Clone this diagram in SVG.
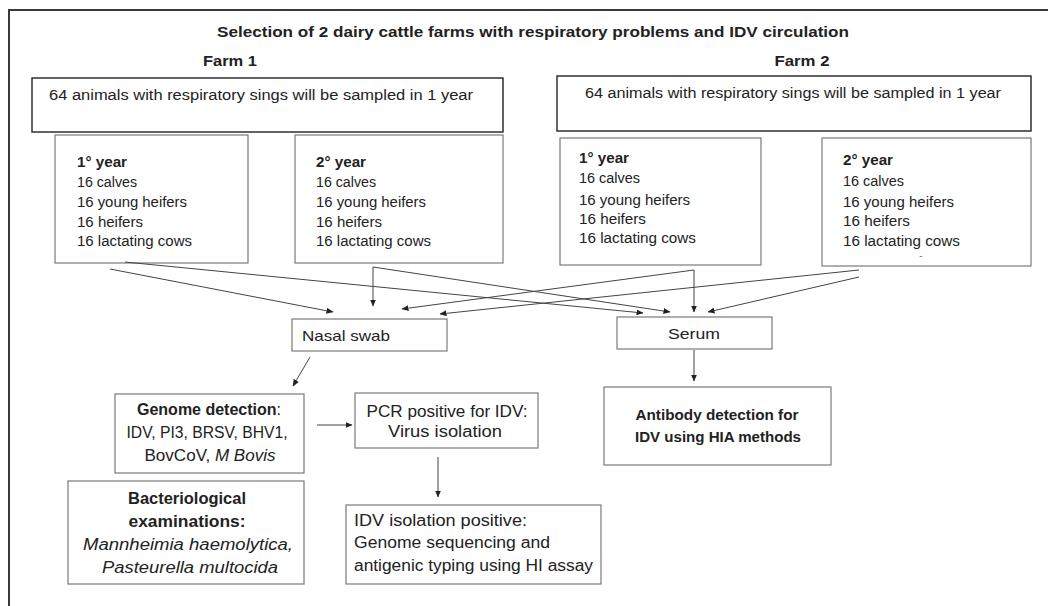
<svg xmlns="http://www.w3.org/2000/svg" width="1048" height="606" viewBox="0 0 1048 606">
<defs>
<marker id="ah" markerWidth="7" markerHeight="6" refX="6.5" refY="3" orient="auto" markerUnits="userSpaceOnUse">
<path d="M0,0 L7,3 L0,6 Z" fill="#222"/>
</marker>
<style>
text{font-family:"Liberation Sans",Arial,sans-serif;fill:#222}
.t{font-size:15px;font-weight:bold}
.big{font-size:15.5px}
.yr{font-size:14px}
.b{font-weight:bold}
.mid{font-size:14.5px}
.lg{font-size:16px}
.it{font-style:italic}
.dark{fill:#fff;stroke:#222;stroke-width:1.4}
.box{fill:#fff;stroke:#7a7a7a;stroke-width:1.2}
.con line{stroke:#444;stroke-width:1;marker-end:url(#ah)}
</style>
</defs>
<rect width="1048" height="606" fill="#fff"/>
<path d="M9,606 V10 H1048" fill="none" stroke="#3a3a3a" stroke-width="2"/>

<g id="title">
<text class="t" x="533" y="37" text-anchor="middle" textLength="632" lengthAdjust="spacingAndGlyphs">Selection of 2 dairy cattle farms with respiratory problems and IDV circulation</text>
<text class="t" x="230" y="66" text-anchor="middle" textLength="54" lengthAdjust="spacingAndGlyphs">Farm 1</text>
<text class="t" x="802" y="66" text-anchor="middle" textLength="55" lengthAdjust="spacingAndGlyphs">Farm 2</text>
</g>

<g id="farm1-total">
<rect class="dark" x="32" y="78" width="471" height="54"/>
<text class="big" x="49" y="100" textLength="424" lengthAdjust="spacingAndGlyphs">64 animals with respiratory sings will be sampled in 1 year</text>
</g>
<g id="farm2-total">
<rect class="dark" x="557" y="76" width="474" height="55"/>
<text class="big" x="585" y="98" textLength="416" lengthAdjust="spacingAndGlyphs">64 animals with respiratory sings will be sampled in 1 year</text>
</g>

<g id="farm1-year1">
<rect class="box" x="55" y="135" width="193" height="128"/>
<text class="yr b" x="77" y="167" textLength="50" lengthAdjust="spacingAndGlyphs">1° year</text>
<text class="yr" x="77" y="187" textLength="60" lengthAdjust="spacingAndGlyphs">16 calves</text>
<text class="yr" x="77" y="207" textLength="110" lengthAdjust="spacingAndGlyphs">16 young heifers</text>
<text class="yr" x="77" y="227" textLength="66" lengthAdjust="spacingAndGlyphs">16 heifers</text>
<text class="yr" x="77" y="246" textLength="115" lengthAdjust="spacingAndGlyphs">16 lactating cows</text>
</g>
<g id="farm1-year2">
<rect class="box" x="295" y="135" width="208" height="128"/>
<text class="yr b" x="316" y="167" textLength="50" lengthAdjust="spacingAndGlyphs">2° year</text>
<text class="yr" x="316" y="187" textLength="60" lengthAdjust="spacingAndGlyphs">16 calves</text>
<text class="yr" x="316" y="207" textLength="110" lengthAdjust="spacingAndGlyphs">16 young heifers</text>
<text class="yr" x="316" y="227" textLength="66" lengthAdjust="spacingAndGlyphs">16 heifers</text>
<text class="yr" x="316" y="246" textLength="115" lengthAdjust="spacingAndGlyphs">16 lactating cows</text>
</g>
<g id="farm2-year1">
<rect class="box" x="560" y="138" width="201" height="127"/>
<text class="yr b" x="579" y="163" textLength="50" lengthAdjust="spacingAndGlyphs">1° year</text>
<text class="yr" x="579" y="183" textLength="61" lengthAdjust="spacingAndGlyphs">16 calves</text>
<text class="yr" x="579" y="205" textLength="111" lengthAdjust="spacingAndGlyphs">16 young heifers</text>
<text class="yr" x="579" y="224" textLength="67" lengthAdjust="spacingAndGlyphs">16 heifers</text>
<text class="yr" x="579" y="243" textLength="117" lengthAdjust="spacingAndGlyphs">16 lactating cows</text>
</g>
<g id="farm2-year2">
<rect class="box" x="822" y="138" width="209" height="128"/>
<text class="yr b" x="843" y="165" textLength="50" lengthAdjust="spacingAndGlyphs">2° year</text>
<text class="yr" x="843" y="186" textLength="61" lengthAdjust="spacingAndGlyphs">16 calves</text>
<text class="yr" x="843" y="207" textLength="111" lengthAdjust="spacingAndGlyphs">16 young heifers</text>
<text class="yr" x="843" y="226" textLength="67" lengthAdjust="spacingAndGlyphs">16 heifers</text>
<text class="yr" x="843" y="246" textLength="117" lengthAdjust="spacingAndGlyphs">16 lactating cows</text>
<text x="921" y="259" font-size="10" style="fill:#777" text-anchor="middle">-</text>
</g>

<g id="nasal-swab">
<rect class="box" x="292" y="319" width="155" height="32"/>
<text class="mid" x="302" y="341" textLength="88" lengthAdjust="spacingAndGlyphs">Nasal swab</text>
</g>
<g id="serum">
<rect class="box" x="617" y="317" width="155" height="32"/>
<text class="mid" x="694" y="339" text-anchor="middle" textLength="52" lengthAdjust="spacingAndGlyphs">Serum</text>
</g>

<g id="genome-detection">
<rect class="box" x="115" y="394" width="189" height="79"/>
<text class="lg" x="209" y="415" text-anchor="middle" textLength="144" lengthAdjust="spacingAndGlyphs"><tspan class="b">Genome detection</tspan>:</text>
<text class="lg" x="207" y="438" text-anchor="middle" textLength="161" lengthAdjust="spacingAndGlyphs">IDV, PI3, BRSV, BHV1,</text>
<text class="lg" x="210" y="461" text-anchor="middle" textLength="131" lengthAdjust="spacingAndGlyphs">BovCoV, <tspan class="it">M Bovis</tspan></text>
</g>
<g id="bacteriological">
<rect class="box" x="68" y="481" width="236" height="103"/>
<text class="lg b" x="187" y="504" text-anchor="middle" textLength="118" lengthAdjust="spacingAndGlyphs">Bacteriological</text>
<text class="lg b" x="187" y="527" text-anchor="middle" textLength="117" lengthAdjust="spacingAndGlyphs">examinations:</text>
<text class="lg it" x="188" y="550" text-anchor="middle" textLength="210" lengthAdjust="spacingAndGlyphs">Mannheimia haemolytica,</text>
<text class="lg it" x="190" y="573" text-anchor="middle" textLength="176" lengthAdjust="spacingAndGlyphs">Pasteurella multocida</text>
</g>
<g id="pcr">
<rect class="box" x="355" y="393" width="183" height="55"/>
<text class="lg" x="447" y="417" text-anchor="middle" textLength="161" lengthAdjust="spacingAndGlyphs">PCR positive for IDV:</text>
<text class="lg" x="445" y="437" text-anchor="middle" textLength="114" lengthAdjust="spacingAndGlyphs">Virus isolation</text>
</g>
<g id="idv-isolation">
<rect class="box" x="346" y="505" width="255" height="79"/>
<text class="lg" x="354" y="526" textLength="173" lengthAdjust="spacingAndGlyphs">IDV isolation positive:</text>
<text class="lg" x="354" y="548" textLength="196" lengthAdjust="spacingAndGlyphs">Genome sequencing and</text>
<text class="lg" x="354" y="571" textLength="239" lengthAdjust="spacingAndGlyphs">antigenic typing using HI assay</text>
</g>
<g id="antibody">
<rect class="box" x="604" y="387" width="227" height="78"/>
<text class="mid b" x="717" y="420" text-anchor="middle" textLength="163" lengthAdjust="spacingAndGlyphs">Antibody detection for</text>
<text class="mid b" x="718" y="442" text-anchor="middle" textLength="166" lengthAdjust="spacingAndGlyphs">IDV using HIA methods</text>
</g>

<g id="connectors" class="con">
<line x1="125" y1="262" x2="643" y2="313"/>
<line x1="110" y1="269" x2="333" y2="312"/>
<line x1="373" y1="267" x2="373" y2="306"/>
<line x1="373" y1="267" x2="670" y2="312"/>
<line x1="694" y1="270" x2="694" y2="312"/>
<line x1="694" y1="270" x2="402" y2="309"/>
<line x1="859" y1="270" x2="440" y2="314"/>
<line x1="859" y1="277" x2="708" y2="312"/>
<line x1="310" y1="357" x2="293" y2="386"/>
<line x1="317" y1="425" x2="352" y2="425"/>
<line x1="438" y1="457" x2="438" y2="497"/>
<line x1="694" y1="350" x2="694" y2="381"/>
</g>
</svg>
